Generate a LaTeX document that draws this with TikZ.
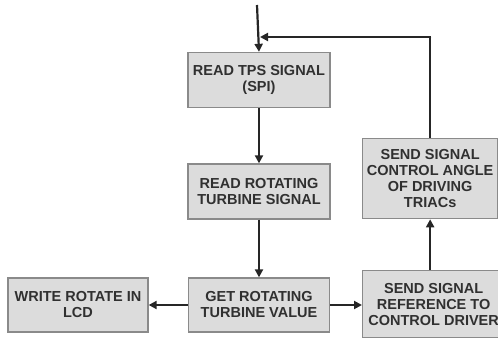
\documentclass[tikz,border=0pt]{standalone}
\usepackage{fontspec}
\setmainfont{Liberation Sans}
\usetikzlibrary{arrows.meta}
\definecolor{boxfill}{HTML}{DCDCDC}
\definecolor{boxline}{HTML}{8A8A8A}
\definecolor{txt}{HTML}{303030}
\tikzset{
  blk/.style={draw=boxline, fill=boxfill, line width=1.3pt, align=center, inner sep=0pt,
    font=\bfseries\fontsize{14.5}{16}\selectfont, text=txt},
  conn/.style={line width=2.2pt, draw=black!85, -{Triangle[length=8pt,width=8pt]}},
  plain/.style={line width=2.2pt, draw=black!85}
}
\begin{document}
\begin{tikzpicture}[x=1pt,y=-1pt]
\useasboundingbox (0,0) rectangle (498,339);
\node[blk, minimum width=142pt, minimum height=55pt] (tps) at (259,80) {READ TPS SIGNAL\\(SPI)};
\node[blk, minimum width=142pt, minimum height=55pt] (rot) at (259,191.5) {READ ROTATING\\TURBINE SIGNAL};
\node[blk, minimum width=141pt, minimum height=54pt] (get) at (259,305) {GET ROTATING\\TURBINE VALUE};
\node[blk, minimum width=140pt, minimum height=54pt] (lcd) at (78,305) {WRITE ROTATE IN\\LCD};
\node[blk, minimum width=142pt, minimum height=67pt, anchor=north west] (ref) at (362,270) {SEND SIGNAL\\REFERENCE TO\\CONTROL DRIVER};
\node[blk, minimum width=135pt, minimum height=80pt, anchor=north west] (ang) at (362,138) {SEND SIGNAL\\CONTROL ANGLE\\OF DRIVING\\TRIACs};
\coordinate (start) at (257,5);
\coordinate (loop) at (432,37);
\coordinate (join) at (259,37);
\draw[conn] (start) -- (tps.north);
\draw[conn] (tps.south) -- (rot.north);
\draw[conn] (rot.south) -- (get.north);
\draw[conn] (get.west) -- (lcd.east);
\draw[conn] (get.east) -- (ref.west |- get.east);
\draw[conn] (ref.north -| ang.south) -- (ang.south);
\draw[plain] (ang.north) -- (ang.north |- loop);
\draw[conn] ([xshift=1.1pt]ang.north |- loop) -- ([xshift=1pt]join);
\end{tikzpicture}
\end{document}
